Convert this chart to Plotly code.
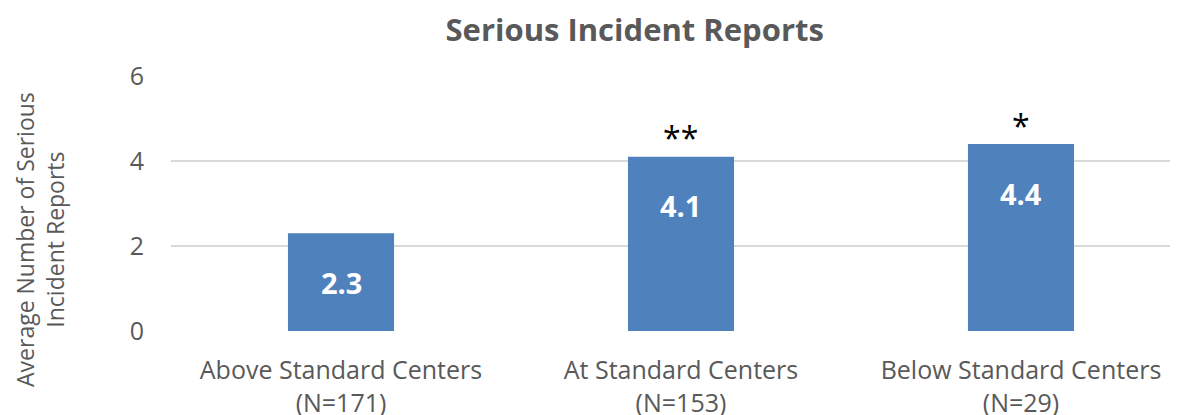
import plotly.graph_objects as go

categories = ["Above Standard Centers<br>(N=171)", "At Standard Centers<br>(N=153)", "Below Standard Centers<br>(N=29)"]
values = [2.3, 4.1, 4.4]
value_labels = ["2.3", "4.1", "4.4"]
significance = ["", "**", "*"]
y_ticks = [0, 2, 4, 6]

BAR = "#4F81BD"
GRAY = "#595959"
FONT = "Open Sans"

fig = go.Figure()
fig.add_trace(go.Bar(x=[0, 1, 2], y=values, width=0.312, marker=dict(color=BAR, line=dict(width=0)),
                     hoverinfo="skip"))

for i, (v, lab, sig) in enumerate(zip(values, value_labels, significance)):
    fig.add_annotation(x=i, y=v, text="<b>%s</b>" % lab, showarrow=False, yshift=-49,
                       font=dict(family=FONT, size=29, color="white"))
    if sig:
        fig.add_annotation(x=i, y=v, text=sig, showarrow=False, yanchor="middle", yshift=19,
                           font=dict(family=FONT, size=32, color="black"))

fig.add_annotation(xref="paper", yref="paper", x=0, y=0.357, xshift=-131, xanchor="center", yanchor="middle",
                   text="Average Number of Serious<br>Incident Reports", textangle=-90, showarrow=False,
                   font=dict(family=FONT, size=23, color=GRAY))

fig.update_layout(
    width=1178, height=415,
    margin=dict(l=163, r=11, t=68, b=92, autoexpand=False),
    paper_bgcolor="white", plot_bgcolor="white",
    showlegend=False,
    title=dict(text="<b>Serious Incident Reports</b>", x=0.532, xanchor="center", y=0.947, yanchor="middle",
               font=dict(family=FONT, size=31, color=GRAY)),
    xaxis=dict(tickmode="array", tickvals=[0, 1, 2], ticktext=categories, range=[-0.5, 2.453],
               showgrid=False, zeroline=False, showline=False, ticks="", ticklabelstandoff=22,
               automargin=False, tickfont=dict(family=FONT, size=25, color=GRAY)),
    yaxis=dict(range=[0, 6], tickvals=y_ticks, showgrid=True, gridcolor="#D9D9D9", gridwidth=2,
               zeroline=False, showline=False, ticks="", ticklabelstandoff=26, automargin=False,
               tickfont=dict(family=FONT, size=25, color=GRAY)),
)

fig.write_html("out.html")
